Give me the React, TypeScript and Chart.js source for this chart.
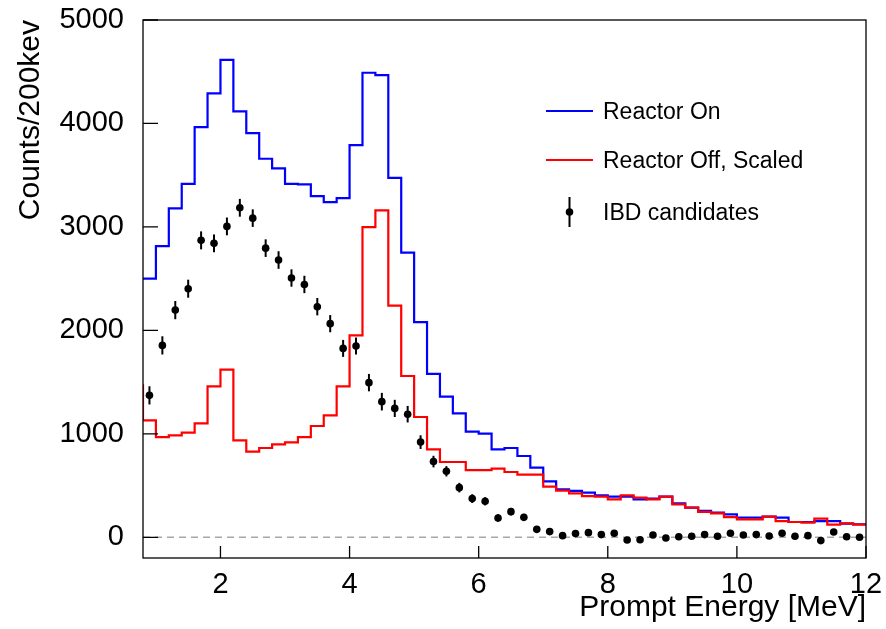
import React, { useEffect, useRef } from "react";
import { Chart, registerables } from "chart.js";

Chart.register(...registerables);

// ---- Data (bin width 0.2 MeV) ----
const BIN_WIDTH = 0.2;
const REACTOR_ON_START = 0.8;
const REACTOR_ON = [
  2500, 2815, 3180, 3417, 3965, 4290, 4615, 4116, 3906, 3659,
  3565, 3417, 3411, 3298, 3240, 3279, 3791, 4490, 4467, 3475,
  2751, 2080, 1580, 1359, 1198, 1021, 1002, 850, 863, 786,
  673, 541, 464, 448, 432, 406, 393, 393, 367, 374,
  393, 328, 287, 255, 238, 222, 190, 190, 200, 190,
  148, 148, 157, 157, 132, 126,
];
const REACTOR_OFF_START = 0.6;
const REACTOR_OFF = [
  1469,
  1130, 969, 986, 1011, 1101, 1459, 1620, 937, 828, 863,
  899, 918, 969, 1076, 1179, 1459, 1952, 2998, 3159, 2240,
  1559, 1163, 850, 728, 728, 650, 650, 664, 631, 606,
  606, 490, 451, 425, 399, 393, 367, 406, 383, 367,
  393, 319, 287, 245, 232, 196, 174, 174, 200, 157,
  148, 142, 181, 123, 135, 123,
];
const IBD_ENERGY = [
  0.9, 1.1, 1.3, 1.5, 1.7, 1.9, 2.1, 2.3, 2.5, 2.7,
  2.9, 3.1, 3.3, 3.5, 3.7, 3.9, 4.1, 4.3, 4.5, 4.7,
  4.9, 5.1, 5.3, 5.5, 5.7, 5.9, 6.1, 6.3, 6.5, 6.7,
  6.9, 7.1, 7.3, 7.5, 7.7, 7.9, 8.1, 8.3, 8.5, 8.7,
  8.9, 9.1, 9.3, 9.5, 9.7, 9.9, 10.1, 10.3, 10.5, 10.7,
  10.9, 11.1, 11.3, 11.5, 11.7, 11.9,
];
const IBD = [
  1372, 1855, 2196, 2403, 2870, 2841, 3005, 3185, 3085, 2795,
  2680, 2506, 2444, 2229, 2065, 1826, 1849, 1495, 1311, 1246,
  1190, 920, 732, 638, 480, 374, 348, 187, 248, 193,
  77, 55, 16, 36, 45, 26, 39, -26, -24, 22,
  -6, 6, 10, 26, 10, 39, 22, 26, 13, 39,
  10, 16, -32, 52, 6, 0,
];
const IBD_ERR = [
  88, 88, 88, 87, 87, 86, 86, 86, 85, 85,
  85, 84, 84, 84, 83, 82, 82, 84, 85, 83,
  80, 66, 56, 50, 46, 42, 40, 36, 36, 34,
  32, 30, 29, 29, 28, 28, 27, 27, 26, 26,
  26, 25, 25, 24, 24, 23, 23, 23, 22, 22,
  22, 21, 21, 21, 20, 20,
];
const X_TICKS = [2, 4, 6, 8, 10, 12];
const Y_TICKS = [0, 1000, 2000, 3000, 4000, 5000];
const X_MIN = 0.8;
const X_MAX = 12;
const Y_MIN = -200;
const Y_MAX = 5000;

const LABEL_ON = "Reactor On";
const LABEL_OFF = "Reactor Off, Scaled";
const LABEL_IBD = "IBD candidates";

const FONT = '"Liberation Sans", Arial, Helvetica, sans-serif';

function histPoints(start: number, values: number[]) {
  const pts = values.map((v, i) => ({ x: +(start + i * BIN_WIDTH).toFixed(2), y: v }));
  pts.push({ x: +(start + values.length * BIN_WIDTH).toFixed(2), y: values[values.length - 1] });
  return pts;
}

function zeroPadding(s: any) {
  s.paddingLeft = 0;
  s.paddingRight = 0;
  s.paddingTop = 0;
  s.paddingBottom = 0;
}

const errorBarPlugin = {
  id: "errorBars",
  beforeDatasetDraw(chart: any, args: any) {
    const ds = chart.data.datasets[args.index];
    if (!ds.errors) return;
    const { ctx, scales, chartArea } = chart;
    const y = scales.y;
    const x = scales.x;
    ctx.save();
    ctx.beginPath();
    ctx.rect(chartArea.left, chartArea.top, chartArea.right - chartArea.left, chartArea.bottom - chartArea.top);
    ctx.clip();
    ctx.strokeStyle = "#000";
    ctx.lineWidth = 2;
    ds.data.forEach((p: any, i: number) => {
      const e = ds.errors[i];
      const px = x.getPixelForValue(p.x);
      ctx.beginPath();
      ctx.moveTo(px, y.getPixelForValue(p.y - e));
      ctx.lineTo(px, y.getPixelForValue(p.y + e));
      ctx.stroke();
    });
    ctx.restore();
  },
};

const framePlugin = {
  id: "frame",
  afterDatasetsDraw(chart: any) {
    const { ctx, chartArea, scales } = chart;
    const { left, right, top, bottom } = chartArea;
    ctx.save();
    ctx.strokeStyle = "#000";
    ctx.lineWidth = 1.3;
    ctx.strokeRect(left, top, right - left, bottom - top);
    ctx.beginPath();
    X_TICKS.forEach((v) => {
      const px = scales.x.getPixelForValue(v);
      ctx.moveTo(px, bottom);
      ctx.lineTo(px, bottom - 12);
    });
    Y_TICKS.forEach((v) => {
      const py = scales.y.getPixelForValue(v);
      ctx.moveTo(left, py);
      ctx.lineTo(left + 15, py);
    });
    ctx.stroke();
    ctx.restore();
  },
};

const legendPlugin = {
  id: "rootLegend",
  afterDraw(chart: any) {
    const { ctx } = chart;
    const ds = chart.data.datasets;
    ctx.save();
    ctx.font = `23px ${FONT}`;
    ctx.fillStyle = "#000";
    ctx.textBaseline = "alphabetic";
    ctx.textAlign = "left";
    const entries = [
      { ds: ds[2], y: 111, text: LABEL_ON },
      { ds: ds[1], y: 160, text: LABEL_OFF },
    ];
    entries.forEach((e) => {
      ctx.strokeStyle = e.ds.borderColor;
      ctx.lineWidth = 2;
      ctx.beginPath();
      ctx.moveTo(546, e.y);
      ctx.lineTo(593, e.y);
      ctx.stroke();
      ctx.fillText(e.text, 603, e.y + 8);
    });
    ctx.strokeStyle = "#000";
    ctx.lineWidth = 2;
    ctx.beginPath();
    ctx.moveTo(569.5, 197);
    ctx.lineTo(569.5, 227);
    ctx.stroke();
    ctx.beginPath();
    ctx.arc(569.5, 212, 3.8, 0, Math.PI * 2);
    ctx.fill();
    ctx.fillText(LABEL_IBD, 603, 220);
    ctx.restore();
  },
};

export default function App() {
  const canvasRef = useRef<HTMLCanvasElement | null>(null);

  useEffect(() => {
    const canvas = canvasRef.current;
    if (!canvas) return;
    const chart = new Chart(canvas, {
      type: "line",
      data: {
        datasets: [
          {
            label: LABEL_IBD,
            data: IBD_ENERGY.map((e, i) => ({ x: e, y: IBD[i] })),
            errors: IBD_ERR,
            showLine: false,
            pointRadius: 3.8,
            pointBackgroundColor: "#000",
            pointBorderWidth: 0,
            order: 0,
          } as any,
          {
            label: LABEL_OFF,
            data: histPoints(REACTOR_OFF_START, REACTOR_OFF),
            stepped: "before",
            borderColor: "#ff0000",
            borderWidth: 2.2,
            pointRadius: 0,
            fill: false,
            order: 1,
          },
          {
            label: LABEL_ON,
            data: histPoints(REACTOR_ON_START, REACTOR_ON),
            stepped: "before",
            borderColor: "#0000ff",
            borderWidth: 2.2,
            pointRadius: 0,
            fill: false,
            order: 2,
          },
          {
            label: "zero",
            data: [
              { x: X_MIN, y: 0 },
              { x: X_MAX, y: 0 },
            ],
            borderColor: "#a8a8a8",
            borderWidth: 1.5,
            borderDash: [7, 5],
            pointRadius: 0,
            fill: false,
            order: 3,
          },
        ],
      },
      options: {
        responsive: false,
        animation: false,
        devicePixelRatio: 1,
        layout: { padding: { left: 0, right: 20, top: 20, bottom: 0 } },
        plugins: {
          legend: { display: false },
          tooltip: { enabled: false },
        },
        scales: {
          x: {
            type: "linear",
            min: X_MIN,
            max: X_MAX,
            afterBuildTicks: (s: any) => {
              s.ticks = X_TICKS.map((v) => ({ value: v }));
            },
            afterFit: (s: any) => {
              s.height = 71;
              zeroPadding(s);
            },
            grid: { display: false, drawTicks: false },
            border: { display: false },
            ticks: {
              padding: 10,
              color: "#000",
              font: { size: 29, family: FONT },
              maxRotation: 0,
              autoSkip: false,
              callback: (v: any) => String(v),
            },
            title: {
              display: true,
              text: "Prompt Energy [MeV]",
              align: "end",
              color: "#000",
              font: { size: 30, family: FONT },
              padding: { top: 0, bottom: 3 },
            },
          },
          y: {
            type: "linear",
            min: Y_MIN,
            max: Y_MAX,
            afterBuildTicks: (s: any) => {
              s.ticks = Y_TICKS.map((v) => ({ value: v }));
            },
            afterFit: (s: any) => {
              s.width = 143;
              zeroPadding(s);
            },
            grid: { display: false, drawTicks: false },
            border: { display: false },
            ticks: {
              padding: 19,
              color: "#000",
              font: { size: 29, family: FONT },
              callback: (v: any) => String(v),
            },
            title: {
              display: true,
              text: "Counts/200kev",
              align: "end",
              color: "#000",
              font: { size: 30, family: FONT },
              padding: { top: 13, bottom: 0 },
            },
          },
        },
      } as any,
      plugins: [errorBarPlugin, framePlugin, legendPlugin],
    });
    return () => chart.destroy();
  }, []);

  return (
    <div style={{ position: "absolute", left: 0, top: 0, width: 886, height: 629, background: "#fff" }}>
      <canvas ref={canvasRef} width={886} height={629} style={{ display: "block" }} />
    </div>
  );
}
